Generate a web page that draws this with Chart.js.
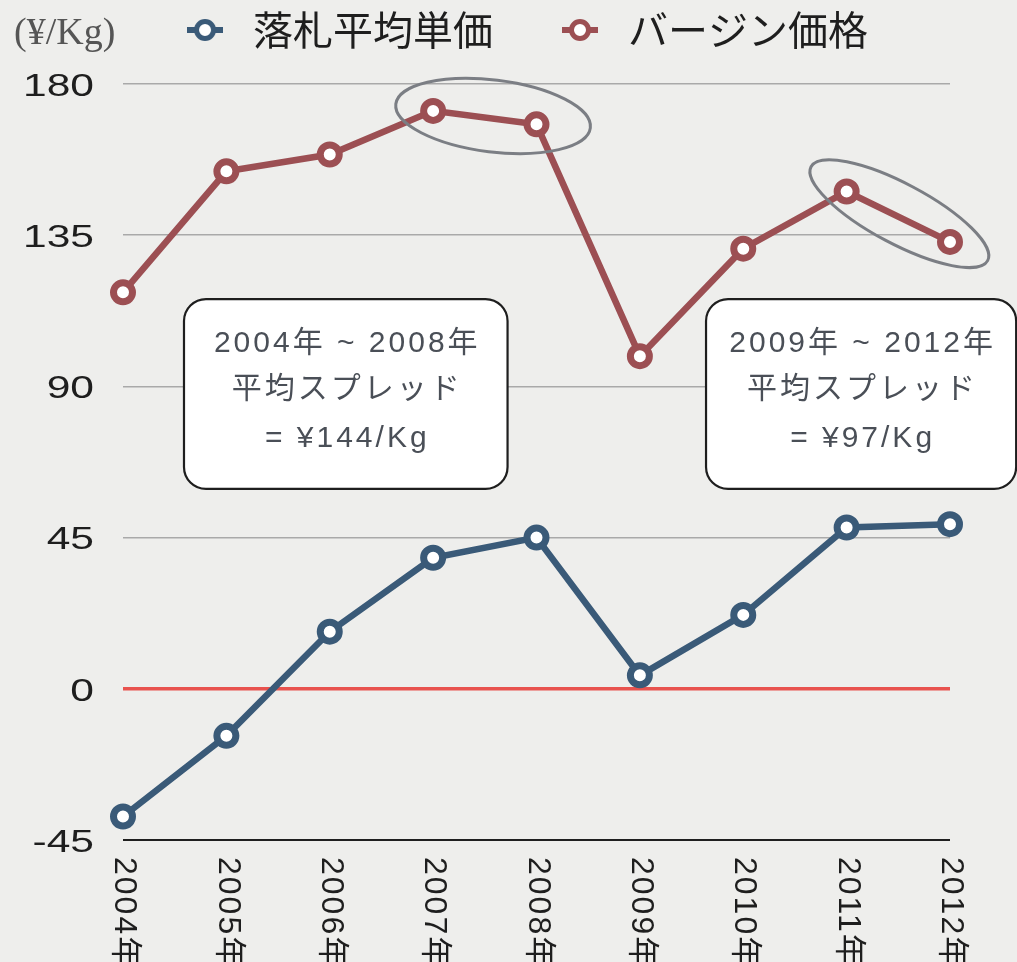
<!DOCTYPE html>
<html><head><meta charset="utf-8">
<script src="https://cdn.jsdelivr.net/npm/chart.js@4.4.0/dist/chart.umd.min.js"></script>
<style>html,body{margin:0;padding:0;background:#eeeeec;}canvas{display:block;}</style>
</head><body>
<canvas id="c" width="1017" height="962"></canvas>
<script>
// ---- data ----
const categories = ['2004年','2005年','2006年','2007年','2008年','2009年','2010年','2011年','2012年'];
const bidAvgPrice = [-38, -14, 17, 39, 45, 4, 22, 48, 49];
const virginPrice = [118, 154, 159, 172, 168, 99, 131, 148, 133];
const yTickValues = [-45, 0, 45, 90, 135, 180];
const seriesNames = ['落札平均単価', 'バージン価格'];
const unitLabel = '(¥/Kg)';
const note1Lines = ['2004年 ~ 2008年', '平均スプレッド', '= ¥144/Kg'];
const note2Lines = ['2009年 ~ 2012年', '平均スプレッド', '= ¥97/Kg'];

const BLUE = '#3a5a78';
const RED = '#9c4f53';

function makeMarker(color) {
  const cv = document.createElement('canvas');
  cv.width = 36; cv.height = 26;
  const g = cv.getContext('2d');
  g.strokeStyle = color; g.lineWidth = 6;
  g.beginPath(); g.moveTo(0, 13); g.lineTo(36, 13); g.stroke();
  g.beginPath(); g.arc(18, 13, 8.5, 0, Math.PI * 2);
  g.fillStyle = '#fff'; g.fill(); g.lineWidth = 5; g.stroke();
  return cv;
}
const markers = [makeMarker(BLUE), makeMarker(RED)];

function roundRect(ctx, x, y, w, h, r) {
  ctx.beginPath();
  ctx.moveTo(x + r, y);
  ctx.lineTo(x + w - r, y); ctx.arcTo(x + w, y, x + w, y + r, r);
  ctx.lineTo(x + w, y + h - r); ctx.arcTo(x + w, y + h, x + w - r, y + h, r);
  ctx.lineTo(x + r, y + h); ctx.arcTo(x, y + h, x, y + h - r, r);
  ctx.lineTo(x, y + r); ctx.arcTo(x, y, x + r, y, r);
  ctx.closePath();
}

const Y_TICK_PAD = 29;
const deco = {
  id: 'deco',
  afterUpdate(chart) {
    const s = chart.scales.y;
    if (s && !s._lsWrapped) {
      const orig = s.drawLabels;
      s._computeLabelArea = () => undefined;
      s.drawLabels = function (area) {
        const ctx = this.ctx;
        const ax = this.right - Y_TICK_PAD;
        ctx.save();
        ctx.translate(ax, 3);
        ctx.scale(1.33, 1);
        ctx.translate(-ax, 0);
        orig.call(this, area);
        ctx.restore();
      };
      s._lsWrapped = true;
    }
  },
  afterDraw(chart) {
    const { ctx, scales: { x, y } } = chart;
    // x labels rotated clockwise
    ctx.save();
    ctx.font = '32px "Liberation Sans", "Noto Sans CJK JP", sans-serif';
    ctx.letterSpacing = '2px';
    ctx.fillStyle = '#1e1e1e';
    ctx.textAlign = 'left';
    ctx.textBaseline = 'middle';
    categories.forEach((c, i) => {
      const px = x.getPixelForValue(i);
      ctx.save();
      ctx.translate(px + 1, y.bottom + 17);
      ctx.rotate(Math.PI / 2);
      ctx.fillText(c, 0, 0);
      ctx.restore();
    });
    ctx.restore();

    // unit label
    ctx.save();
    ctx.font = '38px "Liberation Serif", serif';
    ctx.fillStyle = '#555';
    ctx.textAlign = 'left';
    ctx.textBaseline = 'alphabetic';
    ctx.fillText(unitLabel, 14, 44);
    ctx.restore();

    // ellipses
    const ell = (ix, v, rx, ry, rotDeg) => {
      ctx.save();
      ctx.strokeStyle = '#7b7e84';
      ctx.lineWidth = 3;
      ctx.beginPath();
      ctx.ellipse(x.getPixelForValue(ix), y.getPixelForValue(v), rx, ry, rotDeg * Math.PI / 180, 0, Math.PI * 2);
      ctx.stroke();
      ctx.restore();
    };
    ell(3.58, 170.5, 98, 36, 7);
    ell(7.51, 141.4, 100, 30, 28);

    // note boxes
    const box = (i0, i1, vTop, vBot, lines) => {
      const x0 = x.getPixelForValue(i0), x1 = x.getPixelForValue(i1);
      const y0 = y.getPixelForValue(vTop), y1 = y.getPixelForValue(vBot);
      ctx.save();
      roundRect(ctx, x0, y0, x1 - x0, y1 - y0, 22);
      ctx.fillStyle = '#ffffff';
      ctx.fill();
      ctx.lineWidth = 2.2;
      ctx.strokeStyle = '#1e1e1e';
      ctx.stroke();
      ctx.font = '30px "Liberation Sans", "Noto Sans CJK JP", sans-serif';
      ctx.letterSpacing = '3px';
      ctx.fillStyle = '#4a4f57';
      ctx.textAlign = 'center';
      ctx.textBaseline = 'middle';
      const cx = (x0 + x1) / 2 + 1.5;
      const offs = [45, 91, 140];
      lines.forEach((t, k) => ctx.fillText(t, cx, y0 + offs[k]));
      ctx.restore();
    };
    box(0.59, 3.72, 116, 59.5, note1Lines);
    box(5.64, 8.64, 116, 59.5, note2Lines);
  }
};

new Chart(document.getElementById('c'), {
  type: 'line',
  data: {
    labels: categories,
    datasets: [
      {
        label: seriesNames[0], data: bidAvgPrice,
        borderColor: BLUE, backgroundColor: BLUE, borderWidth: 6.5,
        pointRadius: 9.5, pointBorderWidth: 7, pointBackgroundColor: '#fff', pointBorderColor: BLUE,
        tension: 0
      },
      {
        label: seriesNames[1], data: virginPrice,
        borderColor: RED, backgroundColor: RED, borderWidth: 6.5,
        pointRadius: 9.5, pointBorderWidth: 7, pointBackgroundColor: '#fff', pointBorderColor: RED,
        tension: 0
      }
    ]
  },
  options: {
    responsive: false,
    animation: false,
    layout: { padding: { left: 95, right: 67, top: 0, bottom: 122 } },
    plugins: {
      tooltip: { enabled: false },
      legend: {
        position: 'top', align: 'center',
        labels: {
          usePointStyle: true, pointStyleWidth: 56, padding: 10,
          font: { family: '"Noto Sans CJK JP", sans-serif', size: 40 },
          color: '#1e1e1e',
          generateLabels: (chart) => chart.data.datasets.map((ds, i) => ({
            text: i === 0 ? ds.label + '\u3000 ' : ds.label,
            pointStyle: markers[i],
            fillStyle: '#fff', strokeStyle: ds.borderColor, lineWidth: 0,
            hidden: false, datasetIndex: i, fontColor: '#1e1e1e'
          }))
        }
      },
      subtitle: { display: true, text: ' ', weight: 500, font: { size: 20 }, padding: 0 }
    },
    scales: {
      x: {
        display: true,
        grid: { display: false, drawTicks: false },
        border: { display: false },
        ticks: { display: false }
      },
      y: {
        min: -45, max: 180,
        afterBuildTicks: (s) => { s.ticks = yTickValues.map(v => ({ value: v })); },
        afterFit: (s) => { s.width = 28; },
        border: { display: false },
        grid: {
          drawTicks: false,
          color: (c) => c.tick.value === 0 ? '#e8524e' : (c.tick.value === -45 ? '#1f1f1f' : '#a9a9a9'),
          lineWidth: (c) => c.tick.value === 0 ? 3.5 : (c.tick.value === -45 ? 2 : 1.5)
        },
        ticks: {
          padding: Y_TICK_PAD,
          color: '#1e1e1e',
          font: { family: '"Liberation Sans", Arial, sans-serif', size: 32 }
        }
      }
    }
  },
  plugins: [deco]
});
</script>
</body></html>
